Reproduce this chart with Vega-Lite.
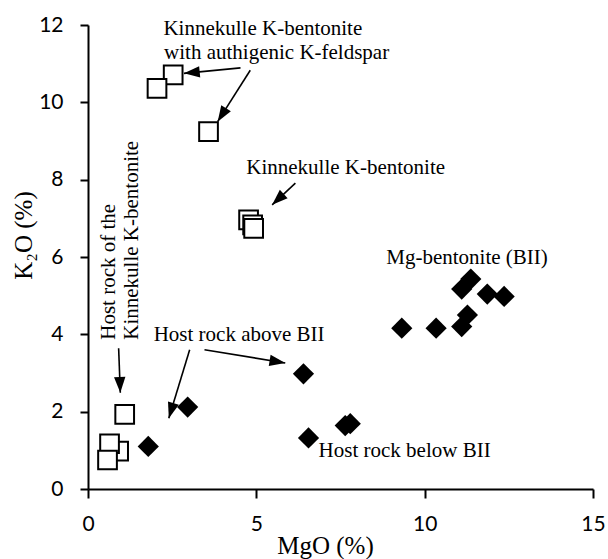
{
  "$schema": "https://vega.github.io/schema/vega-lite/v6.json",
  "autosize": "none",
  "width": 505,
  "height": 464,
  "padding": {"left": 88, "top": 25, "right": 15, "bottom": 70},
  "background": "white",
  "config": {"view": {"stroke": null}},
  "datasets": {
    "pts": [
      {"MgO": 2.53, "K2O": 10.71, "group": "K"},
      {"MgO": 2.05, "K2O": 10.36, "group": "K"},
      {"MgO": 3.58, "K2O": 9.24, "group": "K"},
      {"MgO": 4.77, "K2O": 6.96, "group": "K"},
      {"MgO": 4.89, "K2O": 6.83, "group": "K"},
      {"MgO": 4.92, "K2O": 6.74, "group": "K"},
      {"MgO": 1.09, "K2O": 1.93, "group": "K"},
      {"MgO": 0.91, "K2O": 0.98, "group": "K"},
      {"MgO": 0.64, "K2O": 1.17, "group": "K"},
      {"MgO": 0.58, "K2O": 0.75, "group": "K"},
      {"MgO": 1.79, "K2O": 1.10, "group": "D"},
      {"MgO": 2.96, "K2O": 2.12, "group": "D"},
      {"MgO": 6.40, "K2O": 2.98, "group": "D"},
      {"MgO": 6.55, "K2O": 1.32, "group": "D"},
      {"MgO": 7.64, "K2O": 1.64, "group": "D"},
      {"MgO": 7.79, "K2O": 1.69, "group": "D"},
      {"MgO": 9.32, "K2O": 4.16, "group": "D"},
      {"MgO": 10.34, "K2O": 4.16, "group": "D"},
      {"MgO": 11.10, "K2O": 4.20, "group": "D"},
      {"MgO": 11.27, "K2O": 4.50, "group": "D"},
      {"MgO": 11.10, "K2O": 5.17, "group": "D"},
      {"MgO": 11.37, "K2O": 5.43, "group": "D"},
      {"MgO": 11.86, "K2O": 5.04, "group": "D"},
      {"MgO": 12.36, "K2O": 4.98, "group": "D"}
    ],
    "labels": [
      {"x": 2.24, "y": 11.89, "text": "Kinnekulle K-bentonite", "rot": 0},
      {"x": 2.26, "y": 11.27, "text": "with authigenic K-feldspar", "rot": 0},
      {"x": 4.70, "y": 8.31, "text": "Kinnekulle K-bentonite", "rot": 0},
      {"x": 8.86, "y": 5.98, "text": "Mg-bentonite (BII)", "rot": 0},
      {"x": 1.95, "y": 3.99, "text": "Host rock above BII", "rot": 0},
      {"x": 6.85, "y": 0.97, "text": "Host rock below BII", "rot": 0},
      {"x": 0.63, "y": 3.86, "text": "Host rock of the", "rot": 270},
      {"x": 1.31, "y": 3.86, "text": "Kinnekulle K-bentonite", "rot": 270}
    ],
    "arrows": [
      {"x": 4.53, "y": 10.89, "x2": 2.85, "y2": 10.75, "dir": 264.4},
      {"x": 4.82, "y": 10.83, "x2": 3.85, "y2": 9.50, "dir": 212.3},
      {"x": 6.16, "y": 7.91, "x2": 5.47, "y2": 7.35, "dir": 227},
      {"x": 0.91, "y": 3.64, "x2": 0.96, "y2": 2.49, "dir": 177.8},
      {"x": 3.02, "y": 3.60, "x2": 2.40, "y2": 1.83, "dir": 197.1},
      {"x": 3.46, "y": 3.60, "x2": 5.86, "y2": 3.26, "dir": 99.3}
    ]
  },
  "encoding": {
    "x": {
      "type": "quantitative",
      "scale": {"domain": [0, 15], "nice": false, "zero": false},
      "axis": {
        "title": "MgO (%)",
        "values": [0, 5, 10, 15],
        "grid": false,
        "domainColor": "black", "domainWidth": 2,
        "tickColor": "black", "tickWidth": 2, "tickSize": 9,
        "labelFont": "Lato", "labelFontSize": 21, "labelColor": "black", "labelPadding": 15,
        "labelFlush": false,
        "titleFont": "Liberation Serif", "titleFontSize": 25, "titleFontWeight": "normal", "titleColor": "black",
        "titleX": 237, "titleY": 64, "titleBaseline": "alphabetic", "titleAlign": "center"
      }
    },
    "y": {
      "type": "quantitative",
      "scale": {"domain": [0, 12], "nice": false, "zero": false},
      "axis": {
        "title": "K₂O (%)",
        "values": [0, 2, 4, 6, 8, 10, 12],
        "grid": false,
        "domainColor": "black", "domainWidth": 2,
        "tickColor": "black", "tickWidth": 2, "tickSize": 8,
        "labelFont": "Lato", "labelFontSize": 21, "labelColor": "black", "labelPadding": 17,
        "labelFlush": false,
        "titleFont": "Liberation Serif", "titleFontSize": 25, "titleFontWeight": "normal", "titleColor": "black",
        "titleX": -57, "titleY": 210, "titleBaseline": "alphabetic", "titleAlign": "center", "titleAngle": 270
      }
    }
  },
  "layer": [
    {
      "data": {"name": "arrows"},
      "mark": {"type": "rule", "color": "black", "strokeWidth": 1.6},
      "encoding": {
        "x": {"field": "x", "type": "quantitative"},
        "y": {"field": "y", "type": "quantitative"},
        "x2": {"field": "x2"},
        "y2": {"field": "y2"}
      }
    },
    {
      "data": {"name": "arrows"},
      "mark": {"type": "point", "shape": "M0,0L-0.36,1L0.36,1Z", "filled": true, "color": "black", "opacity": 1, "size": 1000, "strokeWidth": 0},
      "encoding": {
        "x": {"field": "x2", "type": "quantitative"},
        "y": {"field": "y2", "type": "quantitative"},
        "angle": {"field": "dir", "type": "quantitative", "scale": null}
      }
    },
    {
      "data": {"name": "pts"},
      "transform": [{"filter": "datum.group === 'D'"}],
      "mark": {"type": "point", "shape": "diamond", "filled": true, "color": "black", "opacity": 1, "size": 450},
      "encoding": {
        "x": {"field": "MgO", "type": "quantitative"},
        "y": {"field": "K2O", "type": "quantitative"}
      }
    },
    {
      "data": {"name": "pts"},
      "transform": [{"filter": "datum.group === 'K'"}],
      "mark": {"type": "point", "shape": "square", "filled": true, "fill": "white", "stroke": "black", "strokeWidth": 2, "opacity": 1, "size": 350},
      "encoding": {
        "x": {"field": "MgO", "type": "quantitative"},
        "y": {"field": "K2O", "type": "quantitative"}
      }
    },
    {
      "data": {"name": "labels"},
      "mark": {"type": "text", "font": "Liberation Serif", "fontSize": 21, "color": "black", "align": "left", "baseline": "middle"},
      "encoding": {
        "x": {"field": "x", "type": "quantitative"},
        "y": {"field": "y", "type": "quantitative"},
        "text": {"field": "text"},
        "angle": {"field": "rot", "type": "quantitative", "scale": null}
      }
    }
  ]
}
